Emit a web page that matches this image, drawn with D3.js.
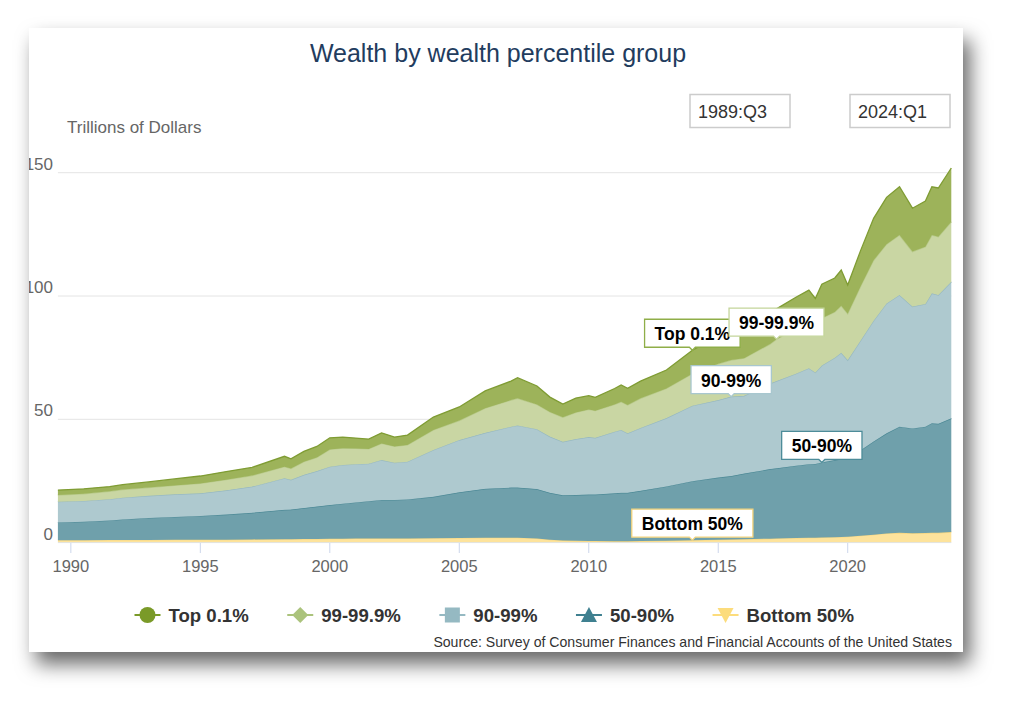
<!DOCTYPE html>
<html>
<head>
<meta charset="utf-8">
<script src="https://cdn.jsdelivr.net/npm/d3@7"></script>
<style>
  body { margin: 0; background: #fff; }
  svg { display: block; font-family: "Liberation Sans", Arial, sans-serif; }
</style>
</head>
<body>
<svg id="chart" width="1024" height="711"></svg>
<script>
// quarters and values (trillions of dollars)
var quarters = ["1989Q3","1990Q3","1991Q3","1992Q1","1993Q1","1994Q1","1995Q1","1996Q1","1997Q1","1998Q2",
  "1998Q3","1999Q1","1999Q3","2000Q1","2000Q3","2001Q1","2001Q3","2002Q1","2002Q3","2003Q1",
  "2004Q1","2005Q1","2006Q1","2007Q1","2007Q2","2008Q1","2008Q3","2009Q1","2009Q3","2010Q1",
  "2010Q2","2011Q1","2011Q2","2011Q3","2012Q1","2013Q1","2014Q1","2015Q1","2015Q3","2016Q1",
  "2017Q1","2017Q2","2018Q1","2018Q3","2018Q4","2019Q1","2019Q3","2019Q4","2020Q1","2020Q3",
  "2021Q1","2021Q3","2022Q1","2022Q3","2023Q1","2023Q2","2023Q3","2024Q1"];

var bottom50 = [1.0,1.0,1.1,1.1,1.1,1.2,1.2,1.2,1.3,1.4,
  1.4,1.5,1.5,1.6,1.6,1.7,1.7,1.7,1.7,1.7,
  1.8,1.9,2.0,2.0,2.0,1.7,1.2,0.9,0.7,0.6,
  0.6,0.5,0.5,0.5,0.6,0.8,1.0,1.2,1.3,1.4,
  1.6,1.7,1.9,2.0,2.0,2.1,2.2,2.3,2.4,2.8,
  3.2,3.7,4.0,3.8,3.9,4.0,4.0,4.3];
var pct50_90 = [7.2,7.5,7.9,8.3,8.9,9.2,9.6,10.2,10.8,11.9,
  12.0,12.5,13.1,13.6,14.2,14.6,15.1,15.6,15.6,15.8,
  16.8,18.5,19.8,20.3,20.3,20.0,19.0,18.3,18.6,18.9,
  18.9,19.5,19.7,19.7,20.4,22.0,23.9,25.2,25.7,26.6,
  28.2,28.4,29.3,29.8,29.9,30.4,31.3,31.7,31.8,34.7,
  37.8,40.6,43.0,42.5,43.1,44.4,44.2,46.1];
var pct90_99 = [8.4,8.4,8.6,8.8,9.0,9.2,9.2,9.8,10.6,12.8,
  12.1,13.5,14.4,15.6,15.7,15.5,15.2,16.2,15.1,15.3,
  19.0,21.2,22.7,24.7,25.2,24.3,22.8,21.7,22.7,23.3,
  23.0,25.0,25.5,24.1,25.5,27.7,30.6,31.4,32.2,31.5,
  34.7,35.4,37.3,38.9,37.1,39.3,41.5,43.0,39.8,44.5,
  49.0,52.7,53.4,49.4,49.8,52.7,52.2,55.4];
var pct99_999 = [2.7,2.9,3.2,3.3,3.3,3.6,4.0,4.3,4.5,4.7,
  4.5,5.3,5.5,7.0,6.8,6.4,6.0,6.7,6.6,6.8,
  8.1,7.9,10.0,10.8,11.0,10.0,10.0,9.9,10.8,11.2,
  11.0,11.0,11.4,11.5,12.0,12.0,13.0,14.7,14.8,15.3,
  16.0,17.0,18.0,18.3,17.0,19.2,18.5,19.0,18.8,22.0,
  24.5,24.0,24.3,22.3,23.2,23.6,23.6,24.3];
var top01 = [2.0,2.0,1.9,2.0,2.3,2.6,3.0,3.3,3.3,4.2,
  4.0,4.2,4.5,4.7,4.5,4.2,4.0,4.3,3.8,4.0,
  5.2,5.5,7.0,7.7,8.4,7.5,6.0,5.4,5.8,5.6,
  5.4,6.5,6.8,6.8,7.0,7.5,9.5,11.0,11.5,11.7,
  12.5,12.3,13.0,13.4,13.0,13.8,13.8,14.5,11.7,14.5,
  17.0,19.0,19.6,17.6,18.5,19.6,19.8,21.8];

var seriesNames = ["Top 0.1%", "99-99.9%", "90-99%", "50-90%", "Bottom 50%"];
var yTicks = [0, 50, 100, 150];
var xTicks = [1990, 1995, 2000, 2005, 2010, 2015, 2020];
var rangeLabels = ["1989:Q3", "2024:Q1"];
// quarter each data label points at
var labelQuarters = ["2014Q1", "2017Q2", "2015Q3", "2019Q1", "2014Q1"];

var fills   = ["#9db35a", "#c9d6a3", "#aec9cf", "#6fa0ab", "#fde39c"];
var strokes = ["#7f9c33", "#b9cb8c", "#97b9c1", "#4d8996", "#f6d67f"];
var markerColors = ["#7a9a28", "#abc37c", "#95b9c2", "#3f8090", "#fcdc7c"];
var labelBorders = ["#8fae48", "#c4d59a", "#a8c7cf", "#4d8c99", "#f3d37c"];

function qToYear(q) { return +q.slice(0, 4) + (+q.slice(5) - 1) / 4; }

var rows = quarters.map(function(q, i) {
  return { t: qToYear(q), b: bottom50[i], m: pct50_90[i], u: pct90_99[i], p: pct99_999[i], top: top01[i] };
});
var keys = ["b", "m", "u", "p", "top"];   // stacking order, bottom first
var stacked = d3.stack().keys(keys)(rows);

var svg = d3.select("#chart");
var defs = svg.append("defs");
var f = defs.append("filter").attr("id", "shadow")
  .attr("x", "-10%").attr("y", "-10%").attr("width", "125%").attr("height", "130%");
f.append("feDropShadow").attr("dx", 7).attr("dy", 12).attr("stdDeviation", 10)
  .attr("flood-color", "#000").attr("flood-opacity", 0.6);
defs.append("clipPath").attr("id", "card")
  .append("rect").attr("x", 29).attr("y", 28).attr("width", 934).attr("height", 624);

svg.append("rect").attr("x", 29).attr("y", 28).attr("width", 934).attr("height", 624)
  .attr("fill", "#fff").attr("filter", "url(#shadow)");

var g = svg.append("g").attr("clip-path", "url(#card)");

var x = d3.scaleLinear().domain([1989.5, 2024]).range([57.9, 951.3]);
var y = d3.scaleLinear().domain([0, 150]).range([542.6, 172.7]);

// title and axis title
g.append("text").attr("x", 498).attr("y", 62).attr("text-anchor", "middle")
  .attr("font-size", 25).attr("fill", "#223c5e").text("Wealth by wealth percentile group");
g.append("text").attr("x", 67).attr("y", 133).attr("font-size", 17).attr("fill", "#666")
  .text("Trillions of Dollars");

// range selector boxes
rangeLabels.forEach(function(lbl, i) {
  var bx = [690, 850][i];
  g.append("rect").attr("x", bx).attr("y", 94.5).attr("width", 100).attr("height", 33)
    .attr("fill", "#fff").attr("stroke", "#cccccc").attr("stroke-width", 1.5);
  g.append("text").attr("x", bx + 8).attr("y", 117.5).attr("font-size", 18).attr("fill", "#333").text(lbl);
});

// grid + y labels
g.selectAll(".grid").data(yTicks.filter(function(d) { return d > 0; })).enter()
  .append("line").attr("x1", x.range()[0]).attr("x2", x.range()[1])
  .attr("y1", function(d) { return y(d); }).attr("y2", function(d) { return y(d); })
  .attr("stroke", "#e4e4e4").attr("stroke-width", 1);
g.selectAll(".ylab").data(yTicks).enter()
  .append("text").attr("x", 53).attr("y", function(d) { return y(d) - 3; })
  .attr("text-anchor", "end").attr("font-size", 17).attr("fill", "#666")
  .text(function(d) { return d; });

// areas
var area = d3.area().x(function(d) { return x(d.data.t); })
  .y0(function(d) { return y(d[0]); }).y1(function(d) { return y(d[1]); });
var line = d3.line().x(function(d) { return x(d.data.t); }).y(function(d) { return y(d[1]); });

stacked.forEach(function(layer, i) {
  var si = 4 - i; // seriesNames index
  g.append("path").attr("d", area(layer)).attr("fill", fills[si]);
  g.append("path").attr("d", line(layer)).attr("fill", "none")
    .attr("stroke", strokes[si]).attr("stroke-width", 1.3);
});

// x axis
g.append("line").attr("x1", x.range()[0]).attr("x2", x.range()[1])
  .attr("y1", 542.6).attr("y2", 542.6).attr("stroke", "#ccd6eb").attr("stroke-width", 0.6);
g.selectAll(".xt").data(xTicks).enter().append("line")
  .attr("x1", function(d) { return x(d); }).attr("x2", function(d) { return x(d); })
  .attr("y1", 543).attr("y2", 553).attr("stroke", "#ccd6eb").attr("stroke-width", 1);
g.selectAll(".xl").data(xTicks).enter().append("text")
  .attr("x", function(d) { return x(d); }).attr("y", 572).attr("text-anchor", "middle")
  .attr("font-size", 16.5).attr("fill", "#666").text(function(d) { return d; });

// data labels
seriesNames.forEach(function(name, si) {
  var layer = stacked[4 - si];
  var idx = quarters.indexOf(labelQuarters[si]);
  var px = x(layer[idx].data.t), py = y(layer[idx][1]);
  var lg = g.append("g");
  var txt = lg.append("text").attr("font-size", 17.5).attr("font-weight", "bold")
    .attr("fill", "#000").text(name);
  var w = txt.node().getComputedTextLength() + 20;
  var bx = px - w / 2, by = py - 3 - 28;
  lg.insert("path", "text")
    .attr("d", "M" + bx + "," + by + "h" + w + "v28h" + (-(w / 2 - 3)) + "l-3,3l-3,-3H" + bx + "Z")
    .attr("fill", "#fff").attr("stroke", labelBorders[si]).attr("stroke-width", 1.3);
  txt.attr("x", bx + 10).attr("y", by + 21);
});

// legend
var lx = 134.5, ly = 615;
seriesNames.forEach(function(name, i) {
  var c = markerColors[i];
  g.append("line").attr("x1", lx).attr("x2", lx + 26).attr("y1", ly).attr("y2", ly)
    .attr("stroke", c).attr("stroke-width", 2);
  var cx = lx + 13, m;
  if (i === 0) m = g.append("circle").attr("cx", cx).attr("cy", ly).attr("r", 8);
  else if (i === 1) m = g.append("path").attr("d", "M" + cx + "," + (ly - 8) + "l8,8l-8,8l-8,-8Z");
  else if (i === 2) m = g.append("rect").attr("x", cx - 7.5).attr("y", ly - 7.5).attr("width", 15).attr("height", 15);
  else if (i === 3) m = g.append("path").attr("d", "M" + cx + "," + (ly - 8) + "l8,15h-16Z");
  else m = g.append("path").attr("d", "M" + (cx - 8) + "," + (ly - 7) + "h16l-8,15Z");
  m.attr("fill", c);
  var t = g.append("text").attr("x", lx + 34).attr("y", ly + 6.5).attr("font-size", 18.6)
    .attr("font-weight", "bold").attr("fill", "#333").text(name);
  lx = lx + 34 + t.node().getComputedTextLength() + 38.5;
});

g.append("text").attr("x", 952).attr("y", 647).attr("text-anchor", "end")
  .attr("font-size", 14.1).attr("fill", "#333")
  .text("Source: Survey of Consumer Finances and Financial Accounts of the United States");
</script>
</body>
</html>
